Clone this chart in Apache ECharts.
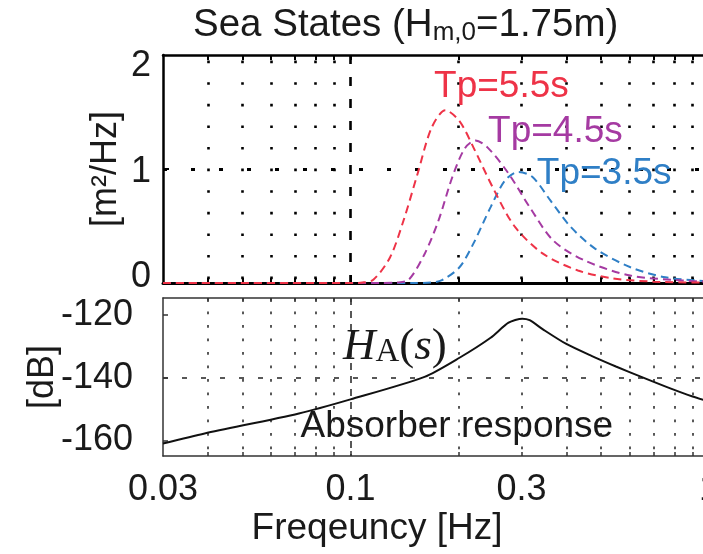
<!DOCTYPE html>
<html>
<head>
<meta charset="utf-8">
<script src="https://cdn.jsdelivr.net/npm/echarts@6/dist/echarts.min.js"></script>
<style>html,body{margin:0;padding:0;background:#fff;}#c{width:703px;height:554px;}</style>
</head>
<body>
<div id="c"></div>
<script>
// ---- data ----
const freqTick = ['0.03', '0.1', '0.3', '1'];
const minorFreq = [0.04, 0.05, 0.06, 0.07, 0.08, 0.09, 0.2, 0.3, 0.4, 0.5, 0.6, 0.7, 0.8, 0.9];
const majorFreq = [0.1];
const specTicks = [0, 1, 2];
const dbTicks = [-160, -140, -120];

const freqTp55 = [0.03, 0.1, 0.108, 0.116, 0.129, 0.1406, 0.1539, 0.1683, 0.184, 0.2014, 0.2202, 0.252, 0.288, 0.345, 0.431, 0.54, 0.7, 1.0];
const specTp55 = [0, 0, 0.004, 0.03, 0.226, 0.548, 0.959, 1.36, 1.516, 1.42, 1.19, 0.81, 0.49, 0.255, 0.11, 0.04, 0.012, 0.003];

const freqTp45 = [0.03, 0.12, 0.135, 0.1455, 0.161, 0.176, 0.1924, 0.2083, 0.223, 0.241, 0.276, 0.316, 0.368, 0.451, 0.604, 0.844, 1.0];
const specTp45 = [0, 0, 0.004, 0.03, 0.255, 0.548, 0.93, 1.18, 1.25, 1.19, 0.96, 0.666, 0.372, 0.196, 0.065, 0.022, 0.01];

const freqTp35 = [0.03, 0.15, 0.168, 0.18, 0.2014, 0.22, 0.246, 0.27, 0.294, 0.322, 0.361, 0.412, 0.482, 0.604, 0.756, 1.0];
const specTp35 = [0, 0, 0.004, 0.025, 0.138, 0.343, 0.666, 0.9, 0.974, 0.93, 0.724, 0.49, 0.3, 0.138, 0.05, 0.015];

const freqAbs = [0.03, 0.0392, 0.0718, 0.1, 0.1609, 0.2014, 0.246, 0.276, 0.3015, 0.316, 0.345, 0.4, 0.47, 0.55, 0.65, 0.78, 0.9, 1.0];
const dbAbs = [-161.0, -157.8, -151.4, -146.9, -139.7, -133.6, -127.2, -122.4, -121.1, -121.6, -124.6, -129.2, -133.0, -136.4, -139.8, -143.4, -146.0, -147.6];

const seaLabels = [
  {name: 'Tp=5.5s', at: [0.2636, 1.72]},
  {name: 'Tp=4.5s', at: [0.373, 1.33]},
  {name: 'Tp=3.5s', at: [0.51, 0.96]}
];

// ---- chart ----
const FONT = 'Liberation Sans';
const TXT = '#1a1a1a';
const zip = (a, b) => a.map((v, i) => [v, b[i]]);
const allFreq = minorFreq.concat(majorFreq);

function xAx(grid, pos, o) {
  return Object.assign({
    type: 'log', logBase: 10, gridIndex: grid, position: pos, min: 0.03, max: 1,
    axisLine: {show: false}, axisTick: {show: false}, axisLabel: {show: false},
    splitLine: {show: false}, minorTick: {show: false}
  }, o);
}

const chart = echarts.init(document.getElementById('c'), null, {renderer: 'canvas'});
const lineS = (name, xs, ys, color, lab) => ({
  type: 'line', name, xAxisIndex: 0, yAxisIndex: 0, data: zip(xs, ys),
  smooth: 0.3, showSymbol: false, symbol: 'none',
  lineStyle: {color, width: 2, type: [8, 5]}, z: 3,
  markPoint: {
    symbolSize: 0, silent: true,
    label: {show: true, position: 'inside', formatter: lab.name, color, fontFamily: FONT, fontSize: 37},
    data: [{coord: lab.at}]
  }
});

chart.setOption({
  animation: false,
  backgroundColor: '#fff',
  title: {
    text: '{a|Sea States (H}{s|m,0}{a|=1.75m)}',
    left: 193, top: 6, padding: 0,
    textStyle: {
      fontWeight: 'normal',
      rich: {
        a: {fontFamily: FONT, fontSize: 38.5, fontWeight: 'normal', lineHeight: 40, color: TXT, verticalAlign: 'top'},
        s: {fontFamily: FONT, fontSize: 26, fontWeight: 'normal', lineHeight: 26, color: TXT, padding: [20, 0, 0, 0], verticalAlign: 'bottom'}
      }
    }
  },
  grid: [
    {left: 163, right: -6, top: 55, height: 228, outerBoundsMode: 'none', containLabel: false},
    {left: 163, right: -6, top: 298, height: 158, outerBoundsMode: 'none', containLabel: false}
  ],
  xAxis: [
    xAx(0, 'bottom', {
      axisLine: {show: true, onZero: false, lineStyle: {color: '#000', width: 3}},
      axisTick: {show: true, inside: true, length: 5, customValues: minorFreq, lineStyle: {color: '#000', width: 2}},
      splitLine: {show: true, lineStyle: {color: '#000', width: 2.6, type: [2.6, 19], dashOffset: 16}}
    }),
    xAx(0, 'top', {
      axisLine: {show: true, onZero: false, lineStyle: {color: '#000', width: 2.5}},
      axisTick: {show: true, inside: true, length: 5, customValues: allFreq, lineStyle: {color: '#000', width: 2}}
    }),
    xAx(0, 'bottom', {
      axisTick: {show: true, inside: true, length: 8, customValues: majorFreq, lineStyle: {color: '#000', width: 2}},
      splitLine: {show: true, lineStyle: {color: '#000', width: 2.6, type: [9, 13]}}
    }),
    xAx(1, 'bottom', {
      axisLine: {show: true, onZero: false, lineStyle: {color: '#333', width: 1.5}},
      axisTick: {show: true, inside: true, length: 4, customValues: minorFreq, lineStyle: {color: '#333', width: 1.5}},
      axisLabel: {show: true, customValues: freqTick.map(Number), margin: 16, fontFamily: FONT, fontSize: 36, color: TXT,
        formatter: v => freqTick.find(t => Math.abs(Number(t) - v) < 1e-9) || ''},
      splitLine: {show: true, lineStyle: {color: '#222', width: 1.5, type: [2.7, 10.8]}},
      name: 'Freqeuncy [Hz]', nameLocation: 'middle', nameGap: 54, nameMoveOverlap: false,
      nameTextStyle: {fontFamily: FONT, fontSize: 37, color: TXT, padding: [0, 118, 0, 0]}
    }),
    xAx(1, 'top', {
      axisLine: {show: true, onZero: false, lineStyle: {color: '#333', width: 1.5}},
      axisTick: {show: true, inside: true, length: 4, customValues: allFreq, lineStyle: {color: '#333', width: 1.5}}
    }),
    xAx(1, 'bottom', {
      axisTick: {show: true, inside: true, length: 5, customValues: majorFreq, lineStyle: {color: '#333', width: 1.5}},
      splitLine: {show: true, lineStyle: {color: '#222', width: 1.5, type: [7, 6]}}
    })
  ],
  yAxis: [
    {
      type: 'value', gridIndex: 0, position: 'left', min: 0, max: 2,
      axisLine: {show: true, onZero: false, lineStyle: {color: '#000', width: 2.5}},
      axisTick: {show: true, inside: true, length: 6, customValues: [1], lineStyle: {color: '#000', width: 2}},
      axisLabel: {show: false},
      splitLine: {show: true, lineStyle: {color: '#000', width: 3, type: [4, 24]}},
      name: '[m²/Hz]', nameLocation: 'middle', nameGap: 39, nameMoveOverlap: false,
      nameTextStyle: {fontFamily: FONT, fontSize: 36, color: TXT}
    },
    {
      type: 'value', gridIndex: 1, position: 'left', min: -165, max: -114.5,
      axisLine: {show: true, onZero: false, lineStyle: {color: '#333', width: 1.5}},
      axisTick: {show: true, inside: true, length: 5, customValues: dbTicks, lineStyle: {color: '#333', width: 1.5}},
      axisLabel: {show: true, customValues: dbTicks, margin: 30, fontFamily: FONT, fontSize: 36, color: TXT},
      splitLine: {show: false},
      name: '[dB]', nameLocation: 'middle', nameGap: 102, nameMoveOverlap: false,
      nameTextStyle: {fontFamily: FONT, fontSize: 36, color: TXT}
    },
    {
      type: 'value', gridIndex: 1, position: 'left', min: -165, max: -114.5,
      axisLine: {show: false}, axisLabel: {show: false},
      axisTick: {show: false, customValues: [-140]},
      splitLine: {show: true, lineStyle: {color: '#222', width: 1.5, type: [5, 14]}}
    },
    {
      // tick labels of the spectrum panel, placed as in the reference
      type: 'value', gridIndex: 0, position: 'left', min: -0.052, max: 2.104,
      axisLine: {show: false}, axisTick: {show: false}, splitLine: {show: false},
      axisLabel: {show: true, customValues: specTicks, margin: 12, fontFamily: FONT, fontSize: 36, color: TXT}
    }
  ],
  series: [
    lineS('Tp=3.5s', freqTp35, specTp35, '#2f7fc6', seaLabels[2]),
    lineS('Tp=4.5s', freqTp45, specTp45, '#a53aa2', seaLabels[1]),
    lineS('Tp=5.5s', freqTp55, specTp55, '#ee3347', seaLabels[0]),
    {
      type: 'line', name: 'Absorber', xAxisIndex: 3, yAxisIndex: 1, data: zip(freqAbs, dbAbs),
      smooth: 0.25, showSymbol: false, symbol: 'none', z: 3,
      lineStyle: {color: '#111', width: 2},
      markPoint: {
        symbolSize: 0, silent: true,
        data: [
          {coord: [0.133, -130.2], label: {show: true, position: 'inside',
            formatter: '{h|H}{a|A}{p|(}{i|s}{p|)}',
            rich: {
              h: {fontFamily: 'Liberation Serif', fontStyle: 'italic', fontSize: 45, lineHeight: 44, color: TXT, verticalAlign: 'top'},
              a: {fontFamily: 'Liberation Serif', fontSize: 33, lineHeight: 33, color: TXT, padding: [19, 0, 0, 0], verticalAlign: 'bottom'},
              p: {fontFamily: 'Liberation Serif', fontSize: 45, lineHeight: 44, color: TXT, verticalAlign: 'top'},
              i: {fontFamily: 'Liberation Serif', fontStyle: 'italic', fontSize: 45, lineHeight: 44, color: TXT, verticalAlign: 'top'}
            }}},
          {coord: [0.198, -155.6], label: {show: true, position: 'inside', formatter: 'Absorber response',
            fontFamily: FONT, fontSize: 37, color: TXT}}
        ]
      }
    }
  ]
});
</script>
</body>
</html>
